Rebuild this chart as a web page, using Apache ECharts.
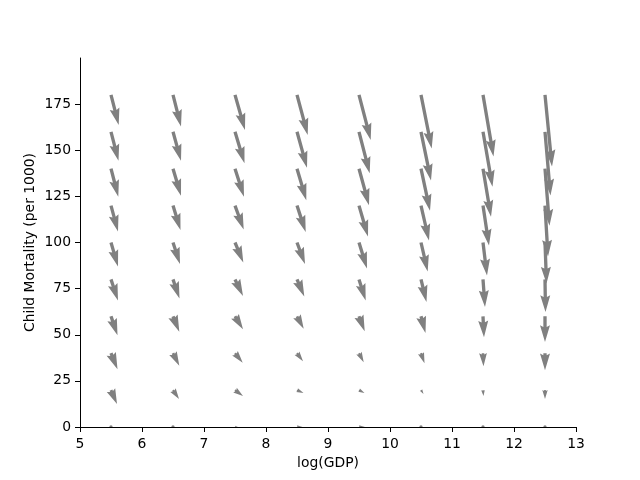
<!DOCTYPE html>
<html>
<head>
<meta charset="utf-8">
<script src="https://cdn.jsdelivr.net/npm/echarts@6/dist/echarts.min.js"></script>
<style>html,body{margin:0;padding:0;background:#fff}#c{width:640px;height:480px}</style>
</head>
<body>
<div id="c"></div>
<script>
// grid of log(GDP) positions and child mortality positions
const xs = [5.5, 6.5, 7.5, 8.5, 9.5, 10.5, 11.5, 12.5];
const ys = [0, 20, 40, 60, 80, 100, 120, 140, 160, 180];
// vector components (rows follow ys, columns follow xs)
const U = [
  [2, 2.5, 4, 5.5, 6, 3, 1, 0.5],
  [6, 6, 8, 6.5, 5.5, 2.5, 0.5, 0],
  [6.5, 6.3, 7.7, 6, 4.7, 3.5, 0.5, 0],
  [6.5, 6.3, 8, 6.7, 5.7, 4.5, 1, 0],
  [7, 6.5, 8, 7.3, 6.7, 5.5, 2, 0.5],
  [7, 7, 8.3, 8, 8, 6.7, 4, 1.5],
  [7, 7.5, 8.7, 8.7, 9, 8, 6, 3],
  [7.3, 8, 9, 9.3, 10, 9, 8, 4.5],
  [7.5, 8, 9.5, 10, 10.7, 10, 9.5, 5.5],
  [7.7, 8, 10, 10.7, 11.7, 10.7, 10.5, 7]
];
const V = [
  [-1, -1, -0.5, 0, 0, -0.5, -1, -1],
  [-14, -9, -6, -3, -3, -4, -6, -9],
  [-16, -12.5, -9.5, -8, -9, -10, -13, -17],
  [-19, -15.5, -13, -12.5, -15, -16.7, -21, -25.7],
  [-21, -19, -16.5, -17, -21, -22.5, -27.5, -32.5],
  [-24, -21.5, -20, -21.5, -26, -29, -33, -41],
  [-26, -24.5, -24, -26.5, -31, -35, -40, -51],
  [-28, -27, -28, -31.5, -36.5, -42, -48, -57],
  [-29, -29, -31.5, -36, -41.5, -48.7, -55, -63.7],
  [-30, -31.5, -35, -40, -45, -53.5, -61.5, -71.5]
];
const yTickValues = [0, 25, 50, 75, 100, 125, 150, 175];

const data = [];
ys.forEach((y, i) => xs.forEach((x, j) => data.push([x, y, U[i][j], V[i][j]])));

const chart = echarts.init(document.getElementById('c'), null, {renderer: 'canvas'});
const FONT = 'DejaVu Sans';
const FS = 13.9;

function renderItem(params, api) {
  const p = api.coord([api.value(0), api.value(1)]);
  const S = 1; // arrow scale
  const dx = api.value(2) * S, dy = -api.value(3) * S;
  const len = Math.hypot(dx, dy);
  const sn = Math.min(25, Math.max(8, Math.sqrt(data.length)));
  const w = 0.06 * params.coordSys.width / sn;
  const L = len / w;
  const style = {fill: '#808080'};
  if (L < 1) {
    return {type: 'circle', shape: {cx: p[0], cy: p[1], r: w / 2}, style};
  }
  const ux = dx / len, uy = dy / len;
  const nx = -uy, ny = ux;
  let pts;
  if (L < 5) {
    const k = L / 5;
    pts = [[0, 0.5], [0.5, 0.5], [0, 1.5], [5, 0], [0, -1.5], [0.5, -0.5], [0, -0.5]].map(q => [q[0] * k, q[1] * k]);
  } else {
    pts = [[0, 0.5], [L - 4.5, 0.5], [L - 5, 1.5], [L, 0], [L - 5, -1.5], [L - 4.5, -0.5], [0, -0.5]];
  }
  const poly = pts.map(q => [p[0] + (q[0] * ux + q[1] * nx) * w, p[1] + (q[0] * uy + q[1] * ny) * w]);
  return {type: 'polygon', shape: {points: poly}, style};
}

chart.setOption({
  animation: false,
  backgroundColor: '#fff',
  grid: {left: 80, right: 64, top: 58, bottom: 53, containLabel: false},
  xAxis: {
    type: 'value', min: 5, max: 13, interval: 1,
    name: 'log(GDP)', nameLocation: 'middle', nameGap: 29, nameMoveOverlap: false,
    nameTextStyle: {fontFamily: FONT, fontSize: FS, color: '#000'},
    axisLine: {onZero: false, lineStyle: {color: '#000', width: 1}},
    axisTick: {show: true, length: 5, lineStyle: {color: '#000', width: 1}},
    axisLabel: {fontFamily: FONT, fontSize: FS, color: '#000', margin: 10},
    splitLine: {show: false}
  },
  yAxis: {
    type: 'value', min: 0, max: 200, interval: 25,
    name: 'Child Mortality (per 1000)', nameLocation: 'middle', nameGap: 43, nameMoveOverlap: false,
    nameTextStyle: {fontFamily: FONT, fontSize: FS, color: '#000'},
    axisLine: {show: true, onZero: false, lineStyle: {color: '#000', width: 1}},
    axisTick: {show: true, length: 5, customValues: yTickValues, lineStyle: {color: '#000', width: 1}},
    axisLabel: {fontFamily: FONT, fontSize: FS, color: '#000', margin: 9, customValues: yTickValues},
    splitLine: {show: false}
  },
  series: [{
    type: 'custom',
    renderItem: renderItem,
    clip: true,
    data: data,
    encode: {x: 0, y: 1}
  }]
});
</script>
</body>
</html>
